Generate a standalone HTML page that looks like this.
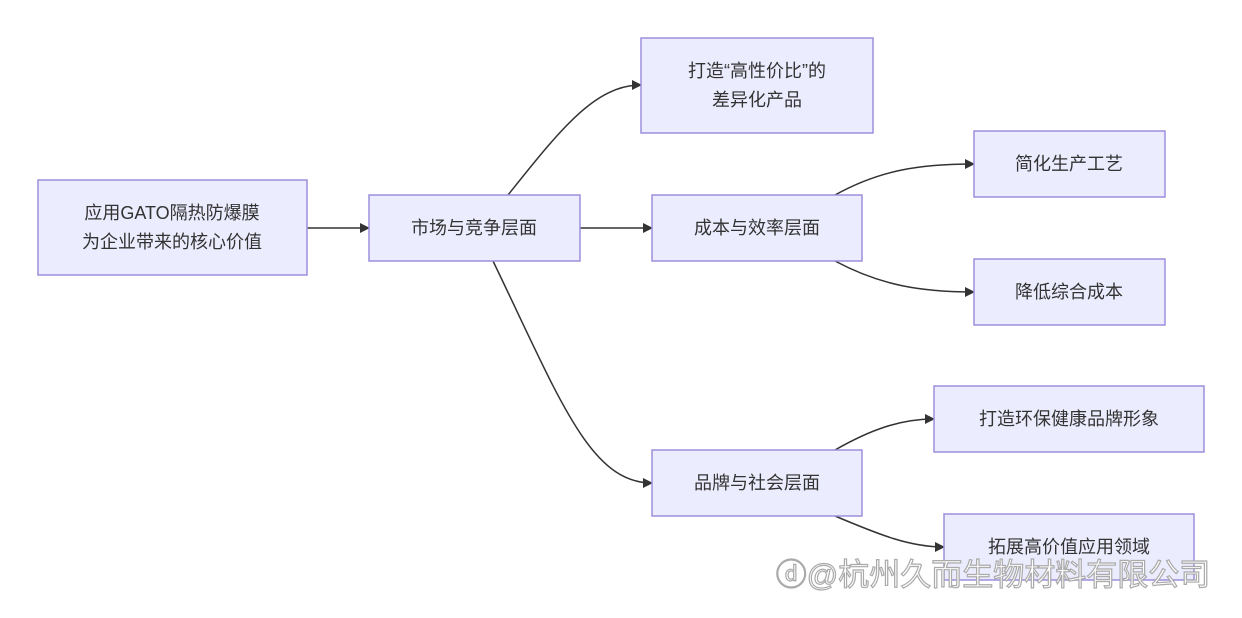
<!DOCTYPE html>
<html><head><meta charset="utf-8"><style>
html,body{margin:0;padding:0;background:#fff;}
svg{display:block;}
text{font-family:"Liberation Sans","Noto Sans CJK SC",sans-serif;font-size:18px;fill:#333;text-anchor:middle;dominant-baseline:central;}
rect{fill:#ECECFF;stroke:#9d8fdc;stroke-width:1.5;}
path.e{fill:none;stroke:#333;stroke-width:1.5;marker-end:url(#arr);}
</style></head><body>
<svg width="1242" height="618" viewBox="0 0 1242 618" xmlns="http://www.w3.org/2000/svg">
<defs><marker id="arr" viewBox="0 0 10 10" refX="9" refY="5" markerWidth="10" markerHeight="10" orient="auto" markerUnits="userSpaceOnUse"><path d="M0,0 L10,5 L0,10 z" fill="#333"/></marker></defs>
<path class="e" d="M307,228 L369,228"/>
<path class="e" d="M580,228 L652,228"/>
<path class="e" d="M508,195 C560,130 595,85 641,85"/>
<path class="e" d="M493,261 C560,400 590,483 652,483"/>
<path class="e" d="M835,195 C880,170 920,164 974,164"/>
<path class="e" d="M835,261 C880,285 920,292 974,292"/>
<path class="e" d="M835,450 C870,430 900,419 934,419"/>
<path class="e" d="M835,516 C880,535 910,547 944,547"/>
<rect x="38" y="180" width="269" height="95"/>
<text x="172" y="213">应用GATO隔热防爆膜</text>
<text x="172" y="242">为企业带来的核心价值</text>
<rect x="369" y="195" width="211" height="66"/>
<text x="474" y="228">市场与竞争层面</text>
<rect x="641" y="38" width="232" height="95"/>
<text x="757" y="71">打造“高性价比”的</text>
<text x="757" y="100">差异化产品</text>
<rect x="652" y="195" width="210" height="66"/>
<text x="757" y="228">成本与效率层面</text>
<rect x="974" y="131" width="191" height="66"/>
<text x="1069" y="164">简化生产工艺</text>
<rect x="974" y="259" width="191" height="66"/>
<text x="1069" y="292">降低综合成本</text>
<rect x="652" y="450" width="210" height="66"/>
<text x="757" y="483">品牌与社会层面</text>
<rect x="934" y="386" width="270" height="66"/>
<text x="1069" y="419">打造环保健康品牌形象</text>
<rect x="944" y="514" width="250" height="66"/>
<text x="1069" y="547">拓展高价值应用领域</text>
<text x="993" y="575" style="font-size:31px;fill:#fff;stroke:#aaa;stroke-width:1.2;">ⓓ@杭州久而生物材料有限公司</text>
</svg>
</body></html>
